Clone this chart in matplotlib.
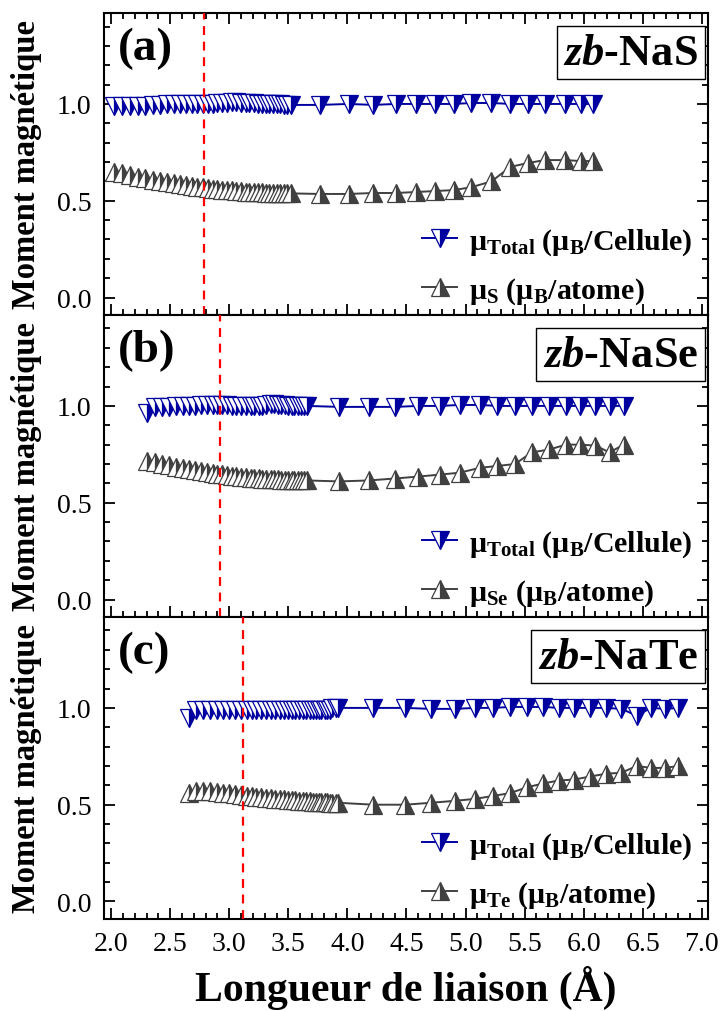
import matplotlib
matplotlib.use('Agg')
import matplotlib.pyplot as plt
from matplotlib.ticker import MultipleLocator
from matplotlib import rcParams

config = {
    "font.family": 'Liberation Serif',
    "font.weight": 'bold',
    "mathtext.fontset": 'custom',
    "mathtext.rm": 'Liberation Serif:bold',
    "mathtext.it": 'Liberation Serif:italic:bold',
    "mathtext.bf": 'Liberation Serif:bold',
}
rcParams.update(config)

# ---- (a) zb-NaS ----
x_nas = [2.02, 2.09, 2.16, 2.23, 2.29, 2.35, 2.41, 2.47, 2.53, 2.58, 2.63, 2.68,
         2.73, 2.78, 2.82, 2.86, 2.90, 2.94, 2.98, 3.02, 3.06, 3.10, 3.14, 3.17,
         3.21, 3.24, 3.28, 3.31, 3.34, 3.37, 3.40, 3.43, 3.46, 3.49, 3.52,
         3.77, 4.01, 4.22, 4.41, 4.58, 4.74, 4.90, 5.05, 5.22, 5.38, 5.53, 5.67,
         5.84, 5.98, 6.08]
tot_nas = [0.99, 0.99, 0.99, 0.99, 0.99, 0.995, 0.995, 1.0, 1.0, 1.0, 1.0, 1.0,
           1.0, 1.0, 1.0, 1.0, 1.005, 1.005, 1.005, 1.01, 1.01, 1.005, 1.005, 1.005,
           1.005, 1.0, 1.0, 1.0, 1.0, 1.0, 1.0, 1.0, 0.995, 0.995, 0.995,
           0.995, 1.0, 0.995, 1.0, 1.0, 1.0, 1.0, 1.005, 1.005, 1.0, 1.0, 1.0,
           1.0, 1.0, 1.0]
s_nas = [0.650, 0.641, 0.632, 0.624, 0.616, 0.609, 0.603, 0.597, 0.591, 0.586, 0.581, 0.577,
         0.573, 0.569, 0.566, 0.563, 0.560, 0.557, 0.555, 0.553, 0.551, 0.549, 0.547, 0.546,
         0.545, 0.544, 0.543, 0.542, 0.541, 0.541, 0.540, 0.540, 0.539, 0.539, 0.538,
         0.535, 0.535, 0.540, 0.540, 0.545, 0.550, 0.555, 0.570, 0.600, 0.675, 0.695, 0.710,
         0.710, 0.705, 0.705]

# ---- (b) zb-NaSe ----
x_nase = [2.30, 2.37, 2.43, 2.49, 2.55, 2.61, 2.66, 2.71, 2.76, 2.81, 2.86, 2.90,
          2.94, 2.98, 3.02, 3.06, 3.10, 3.14, 3.18, 3.21, 3.25, 3.28, 3.31, 3.35,
          3.38, 3.41, 3.44, 3.47, 3.50, 3.53, 3.55, 3.58, 3.61, 3.63, 3.66,
          3.93, 4.18, 4.40, 4.60, 4.78, 4.95, 5.12, 5.27, 5.42, 5.56, 5.71, 5.85,
          5.97, 6.10, 6.22, 6.34]
tot_nase = [0.965, 0.995, 0.995, 0.995, 1.0, 1.0, 1.0, 1.0, 1.005, 1.005, 1.005, 1.005,
            1.005, 1.005, 1.0, 1.0, 1.0, 1.0, 1.0, 1.0, 1.0, 1.0, 1.005, 1.01,
            1.01, 1.005, 1.005, 1.005, 1.0, 1.0, 1.0, 1.0, 1.0, 1.0, 1.0,
            0.995, 0.995, 0.995, 1.0, 1.0, 1.005, 1.005, 1.0, 1.0, 1.0, 1.0, 1.0,
            1.0, 1.0, 1.0, 1.0]
se_nase = [0.715, 0.708, 0.700, 0.693, 0.686, 0.680, 0.674, 0.668, 0.663, 0.658, 0.654, 0.650,
           0.646, 0.643, 0.640, 0.637, 0.634, 0.632, 0.630, 0.628, 0.626, 0.624, 0.623, 0.622,
           0.621, 0.620, 0.619, 0.618, 0.617, 0.617, 0.616, 0.616, 0.615, 0.615, 0.615,
           0.610, 0.615, 0.625, 0.635, 0.645, 0.655, 0.680, 0.690, 0.700, 0.760, 0.775, 0.800,
           0.800, 0.795, 0.760, 0.800]

# ---- (c) zb-NaTe ----
x_nate = [2.66, 2.72, 2.78, 2.84, 2.90, 2.95, 3.00, 3.05, 3.10, 3.15, 3.19, 3.23,
          3.27, 3.31, 3.35, 3.39, 3.43, 3.46, 3.50, 3.53, 3.56, 3.59, 3.62, 3.65,
          3.68, 3.71, 3.73, 3.76, 3.78, 3.81, 3.83, 3.85, 3.87, 3.90, 3.92,
          4.22, 4.49, 4.71, 4.91, 5.08, 5.23, 5.38, 5.52, 5.66, 5.79, 5.92, 6.05,
          6.19, 6.32, 6.45, 6.57, 6.69, 6.80]
tot_nate = [0.95, 0.99, 0.99, 0.99, 0.99, 0.99, 0.99, 0.99, 0.99, 0.99, 0.99, 0.99,
            0.99, 0.99, 0.99, 0.99, 0.99, 0.99, 0.99, 0.99, 0.99, 0.99, 0.99, 0.99,
            0.99, 0.99, 0.99, 0.99, 0.99, 0.99, 0.99, 0.99, 1.0, 1.0, 1.0,
            1.0, 1.0, 0.995, 0.995, 1.0, 1.0, 1.005, 1.005, 1.005, 1.0, 1.0, 1.0,
            1.0, 0.995, 0.96, 1.0, 0.995, 1.0]
te_nate = [0.560, 0.570, 0.572, 0.570, 0.566, 0.562, 0.558, 0.554, 0.550, 0.547, 0.544, 0.541,
           0.538, 0.535, 0.533, 0.531, 0.529, 0.527, 0.525, 0.523, 0.522, 0.520, 0.519, 0.518,
           0.517, 0.516, 0.515, 0.514, 0.513, 0.512, 0.512, 0.511, 0.511, 0.510, 0.510,
           0.500, 0.500, 0.510, 0.520, 0.530, 0.545, 0.560, 0.590, 0.610, 0.625, 0.630, 0.645,
           0.660, 0.665, 0.700, 0.690, 0.690, 0.700]

panels = [
    ('(a)', 'NaS', 'S', x_nas, tot_nas, s_nas, 2.79),
    ('(b)', 'NaSe', 'Se', x_nase, tot_nase, se_nase, 2.92),
    ('(c)', 'NaTe', 'Te', x_nate, tot_nate, te_nate, 3.12),
]

blue = '#0000A0'
grey = '#404040'

fig = plt.figure(figsize=(7.28, 10.12), dpi=100)
left, width = 0.143, 0.829
h = 0.2984
bottoms = [0.091 + 2 * h, 0.091 + h, 0.091]

for i, (tag, name, atom, x, tot, mu, xeq) in enumerate(panels):
    ax = fig.add_axes([left, bottoms[i], width, h])
    ax.plot(x, tot, '-', color=blue, lw=1.4, marker='v', ms=13, mew=0.9,
            mec=blue, mfc=blue, fillstyle='right', markerfacecoloralt='white',
            label='μ$_\\mathregular{Total}$ (μ$_\\mathregular{B}$/Cellule)')
    ax.plot(x, mu, '-', color=grey, lw=1.4, marker='^', ms=13, mew=0.9,
            mec=grey, mfc=grey, fillstyle='right', markerfacecoloralt='white',
            label='μ$_\\mathregular{%s}$ (μ$_\\mathregular{B}$/atome)' % atom)
    ax.axvline(xeq, color='red', ls=(0, (4, 3)), lw=1.6, zorder=5)

    ax.set_xlim(1.94, 7.05)
    ax.set_ylim(-0.09, 1.47)
    ax.xaxis.set_major_locator(MultipleLocator(0.5))
    ax.xaxis.set_minor_locator(MultipleLocator(0.1))
    ax.yaxis.set_major_locator(MultipleLocator(0.5))
    ax.yaxis.set_minor_locator(MultipleLocator(0.1))
    ax.tick_params(which='both', direction='in', top=(i == 0), right=True,
                   width=1.3, labelsize=20, pad=9)
    ax.tick_params(which='major', length=8)
    ax.tick_params(which='minor', length=4)
    for lab in ax.get_xticklabels() + ax.get_yticklabels():
        lab.set_fontweight('normal')
    if i < 2:
        ax.tick_params(labelbottom=False)
    for sp in ax.spines.values():
        sp.set_linewidth(1.5)

    ax.set_ylabel('Moment magnétique', fontsize=23.5, fontweight='bold')
    ax.yaxis.set_label_coords(-0.103, 0.5)

    ax.text(0.022, 0.955, tag, transform=ax.transAxes, fontsize=34,
            fontweight='bold', ha='left', va='top')
    ax.text(0.984, 0.935, '$zb$-' + name, transform=ax.transAxes, fontsize=32,
            fontweight='bold', ha='right', va='top',
            bbox=dict(boxstyle='square,pad=0.15', fc='white', ec='black', lw=1.0))

    ax.legend(loc='lower right', bbox_to_anchor=(1.005, -0.03), frameon=False,
              fontsize=21.5, handlelength=1.2, handletextpad=0.4, labelspacing=0.62,
              numpoints=1, borderaxespad=0.2)

    if i == 2:
        ax.set_xlabel('Longueur de liaison (Å)', fontsize=30, fontweight='bold',
                      labelpad=6)

plt.savefig('out.png', dpi=100)
